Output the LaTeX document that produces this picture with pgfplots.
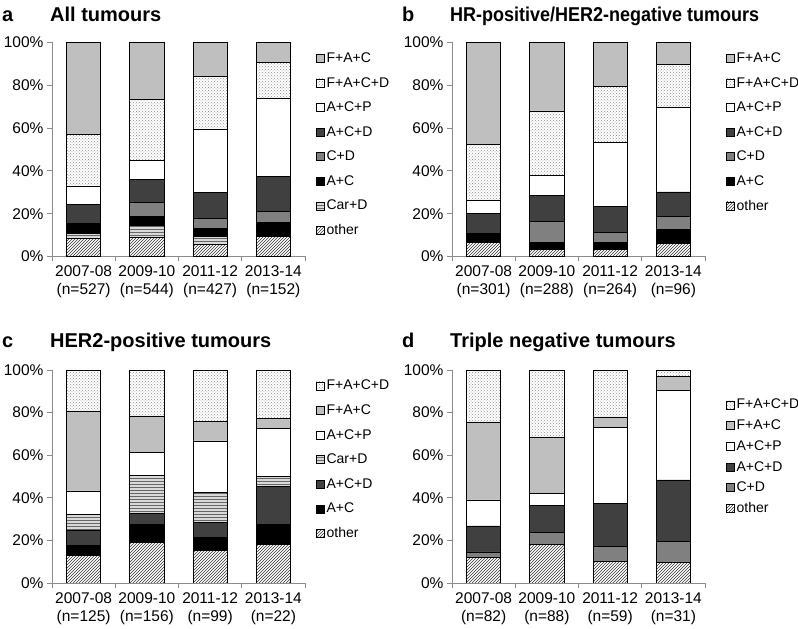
\documentclass[border=0pt]{standalone}
\usepackage{fontspec}
\setmainfont{Liberation Sans}
\usepackage{pgfplots}
\pgfplotsset{compat=1.18}
\usetikzlibrary{patterns}
\definecolor{lgray}{HTML}{BFBFBF}
\definecolor{mgray}{HTML}{808080}
\definecolor{dgray}{HTML}{404040}
\definecolor{axgray}{HTML}{8C8C8C}
\pgfplotsset{
  sOther/.style={draw=black, line width=0.7pt, fill=white, postaction={pattern=north east lines, pattern color=black!80}},
  sCarD/.style={draw=black, line width=0.7pt, fill=gray!30, postaction={pattern=horizontal lines, pattern color=black!60}},
  sAC/.style={draw=black, line width=0.7pt, fill=black},
  sCD/.style={draw=black, line width=0.7pt, fill=mgray},
  sACD/.style={draw=black, line width=0.7pt, fill=dgray},
  sACP/.style={draw=black, line width=0.7pt, fill=white},
  sFACD/.style={draw=black, line width=0.7pt, fill=white, postaction={pattern=crosshatch dots, pattern color=gray!85}},
  sFAC/.style={draw=black, line width=0.7pt, fill=lgray},
  panel/.style={
    ybar stacked, bar width=0.54,
    scale only axis, width=253pt, height=214pt,
    xmin=-0.5, xmax=3.5, ymin=0, ymax=100,
    axis lines*=left,
    axis line style={draw=axgray, line width=0.8pt},
    xtick={-0.5,0.5,1.5,2.5,3.5}, xticklabels={},
    extra x ticks={0,1,2,3},
    extra x tick style={major tick length=0pt},
    ytick={0,20,40,60,80,100},
    yticklabels={0\%,20\%,40\%,60\%,80\%,100\%},
    tick align=outside, major tick length=5pt,
    tick style={draw=axgray, line width=0.8pt},
    tick label style={font=\fontsize{15.5}{18}\selectfont},
    xticklabel style={align=center, yshift=-6pt},
    reverse legend,
    legend cell align=left,
    legend image code/.code={\draw[##1, line width=0.4pt] (0pt,-4pt) rectangle (8pt,4pt);},
    legend style={at={(1,1)}, anchor=north west, xshift=11pt, yshift=-8pt, draw=none, fill=none,
      font=\fontsize{14}{16}\selectfont, row sep=9.3pt, inner sep=0pt,
      /tikz/every even column/.append style={column sep=0pt}},
  },
}
\begin{document}
\begin{tikzpicture}
\useasboundingbox (0,0) rectangle (798pt,629pt);
% ---------- panel a
\begin{axis}[panel, at={(52pt,372.5pt)}, anchor=south west,
  extra x tick labels={{2007-08\\(n=527)},{2009-10\\(n=544)},{2011-12\\(n=427)},{2013-14\\(n=152)}}]
\addplot[sOther] coordinates {(0,8.5) (1,9.0) (2,5.8) (3,9.2)};
\addplot[sCarD] coordinates {(0,2.2) (1,5.4) (2,3.4) (3,0.7)};
\addplot[sAC] coordinates {(0,4.2) (1,4.2) (2,3.8) (3,5.9)};
\addplot[sCD] coordinates {(0,0.5) (1,6.7) (2,4.7) (3,5.3)};
\addplot[sACD] coordinates {(0,9.0) (1,10.7) (2,12.1) (3,16.4)};
\addplot[sACP] coordinates {(0,8.6) (1,9.0) (2,29.4) (3,36.2)};
\addplot[sFACD] coordinates {(0,24.0) (1,28.3) (2,25.0) (3,17.1)};
\addplot[sFAC] coordinates {(0,43.0) (1,26.7) (2,15.8) (3,9.2)};
\legend{other,Car+D,A+C,C+D,A+C+D,A+C+P,F+A+C+D,F+A+C}
\end{axis}
% ---------- panel b
\begin{axis}[panel, at={(452pt,372.5pt)}, anchor=south west,
  legend style={xshift=10pt},
  extra x tick labels={{2007-08\\(n=301)},{2009-10\\(n=288)},{2011-12\\(n=264)},{2013-14\\(n=96)}}]
\addplot[sOther] coordinates {(0,6.4) (1,3.4) (2,3.4) (3,6.25)};
\addplot[sAC] coordinates {(0,4.0) (1,3.0) (2,3.1) (3,6.25)};
\addplot[sCD] coordinates {(0,0.4) (1,9.9) (2,4.8) (3,6.25)};
\addplot[sACD] coordinates {(0,9.4) (1,12.3) (2,12.0) (3,11.45)};
\addplot[sACP] coordinates {(0,6.2) (1,9.2) (2,29.9) (3,39.6)};
\addplot[sFACD] coordinates {(0,26.0) (1,30.2) (2,26.4) (3,19.8)};
\addplot[sFAC] coordinates {(0,47.6) (1,32.0) (2,20.4) (3,10.4)};
\legend{other,A+C,C+D,A+C+D,A+C+P,F+A+C+D,F+A+C}
\end{axis}
% ---------- panel c
\begin{axis}[panel, at={(52pt,46pt)}, anchor=south west, height=213pt,
  extra x tick labels={{2007-08\\(n=125)},{2009-10\\(n=156)},{2011-12\\(n=99)},{2013-14\\(n=22)}}]
\addplot[sOther] coordinates {(0,12.8) (1,19.2) (2,15.2) (3,18.2)};
\addplot[sAC] coordinates {(0,4.8) (1,8.3) (2,6.1) (3,9.1)};
\addplot[sACD] coordinates {(0,7.2) (1,5.1) (2,7.1) (3,18.2)};
\addplot[sCarD] coordinates {(0,7.2) (1,17.9) (2,14.1) (3,4.5)};
\addplot[sACP] coordinates {(0,11.2) (1,10.9) (2,24.2) (3,22.7)};
\addplot[sFAC] coordinates {(0,37.6) (1,16.7) (2,9.1) (3,4.5)};
\addplot[sFACD] coordinates {(0,19.2) (1,21.9) (2,24.2) (3,22.8)};
\legend{other,A+C,A+C+D,Car+D,A+C+P,F+A+C,F+A+C+D}
\end{axis}
% ---------- panel d
\begin{axis}[panel, at={(452pt,46pt)}, anchor=south west, height=213pt,
  legend style={row sep=5.4pt, yshift=-19pt, xshift=10pt},
  extra x tick labels={{2007-08\\(n=82)},{2009-10\\(n=88)},{2011-12\\(n=59)},{2013-14\\(n=31)}}]
\addplot[sOther] coordinates {(0,12.2) (1,18.2) (2,10.2) (3,9.7)};
\addplot[sCD] coordinates {(0,2.4) (1,5.7) (2,6.8) (3,9.7)};
\addplot[sACD] coordinates {(0,12.2) (1,12.5) (2,20.3) (3,29.0)};
\addplot[sACP] coordinates {(0,12.2) (1,5.6) (2,35.6) (3,41.9)};
\addplot[sFAC] coordinates {(0,36.6) (1,26.2) (2,5.1) (3,6.5)};
\addplot[sFACD] coordinates {(0,24.4) (1,31.8) (2,22.0) (3,3.2)};
\legend{other,C+D,A+C+D,A+C+P,F+A+C,F+A+C+D}
\end{axis}
% ---------- titles
\begin{scope}[every node/.style={anchor=base west, inner sep=0pt, font=\fontsize{20}{24}\selectfont\bfseries}]
\node at (2pt,607pt) {a};
\node at (50pt,607pt) {All tumours};
\node at (402pt,607pt) {b};
\node[xscale=0.9] at (450pt,607pt) {HR-positive/HER2-negative tumours};
\node at (2pt,281pt) {c};
\node at (50pt,281pt) {HER2-positive tumours};
\node at (402pt,281pt) {d};
\node at (450pt,281pt) {Triple negative tumours};
\end{scope}
\end{tikzpicture}
\end{document}
